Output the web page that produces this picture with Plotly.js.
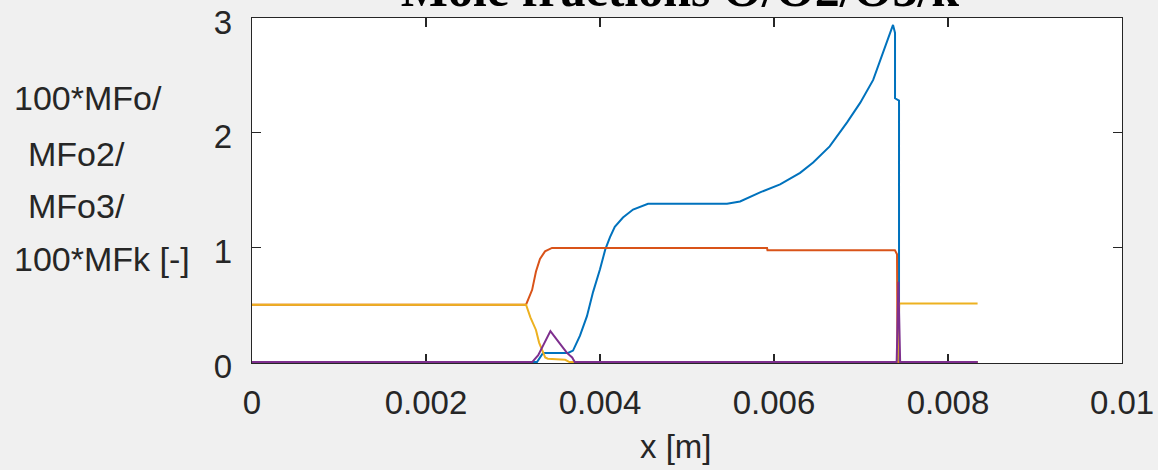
<!DOCTYPE html>
<html>
<head>
<meta charset="utf-8">
<script src="https://cdn.plot.ly/plotly-3.0.1.min.js"></script>
<style>
html,body{margin:0;padding:0;background:#f0f0f0;}
#chart{width:1158px;height:470px;}
</style>
</head>
<body>
<div id="chart"></div>
<script>
// ---- data ----
const xTickVals = [0, 0.002, 0.004, 0.006, 0.008, 0.01];
const xTickText = ['0', '0.002', '0.004', '0.006', '0.008', '0.01'];
const yTickVals = [0, 1, 2, 3];
const yTickText = ['0', '1', '2', '3'];

// 100*MFo (blue)
const xO = [0, 0.003276, 0.003345, 0.003632, 0.00369, 0.00377, 0.00385, 0.00392, 0.00400, 0.00406, 0.004115, 0.00417, 0.004264, 0.00438, 0.004552, 0.00546, 0.00561, 0.00584, 0.00607, 0.0063, 0.00645, 0.00664, 0.00684, 0.00699, 0.00714, 0.007253, 0.007356, 0.007368, 0.007391, 0.007391, 0.007437, 0.007437, 0.00834];
const yO = [0, 0, 0.08, 0.08, 0.10, 0.23, 0.40, 0.61, 0.81, 0.98, 1.09, 1.18, 1.26, 1.33, 1.38, 1.38, 1.40, 1.48, 1.55, 1.65, 1.74, 1.88, 2.09, 2.26, 2.46, 2.70, 2.91, 2.94, 2.87, 2.30, 2.28, 0, 0];

// MFo2 (orange)
const xO2 = [0, 0.00315, 0.00322, 0.003264, 0.00331, 0.003368, 0.003448, 0.00592, 0.005925, 0.00739, 0.007414, 0.00742, 0.00834];
const yO2 = [0.5, 0.5, 0.63, 0.79, 0.90, 0.965, 0.995, 0.995, 0.975, 0.975, 0.94, 0, 0];

// MFo3 (yellow)
const xO3 = [0, 0.00315, 0.0032, 0.003264, 0.0033, 0.00334, 0.00337, 0.0034, 0.0036, 0.00365, 0.00742, 0.00744, 0.00834];
const yO3 = [0.5, 0.5, 0.39, 0.28, 0.17, 0.09, 0.04, 0.03, 0.02, 0, 0, 0.51, 0.51];

// 100*MFk (purple)
const xK = [0, 0.00322, 0.00329, 0.00343, 0.00353, 0.00362, 0.00368, 0.00371, 0.00741, 0.00743, 0.00745, 0.00834];
const yK = [0, 0, 0.06, 0.27, 0.17, 0.08, 0.04, 0, 0, 0.70, 0, 0];

const seriesColors = ['#0072BD', '#D95319', '#EDB120', '#7E2F8E'];

const titleText = 'Mole fractions O/O2/O3/k';
const xLabel = 'x [m]';
const yLabelLines = ['100*MFo/', 'MFo2/', 'MFo3/', '100*MFk [-]'];

// ---- layout constants ----
const W = 1158, H = 470;
const L = 252, R = 36, T = 18, B = 107;
const pw = W - L - R, ph = H - T - B;
const sans = '"Liberation Sans", Arial, sans-serif';
const ink = '#262626';

const traces = [[xO, yO], [xO2, yO2], [xO3, yO3], [xK, yK]].map((d, i) => ({
  x: d[0], y: d[1], type: 'scatter', mode: 'lines',
  line: {color: seriesColors[i], width: 2},
  hoverinfo: 'skip', showlegend: false
}));

// y label lines: [left px, center y px]
const yLabPos = [[12, 98.5], [26, 154], [26, 205.5], [12, 258.5]];
const annotations = yLabelLines.map((t, i) => ({
  text: t, xref: 'paper', yref: 'paper',
  x: (yLabPos[i][0] - L) / pw, y: (H - B - yLabPos[i][1]) / ph,
  xanchor: 'left', yanchor: 'middle', showarrow: false,
  font: {family: sans, size: 34, color: ink}
}));
annotations.push({
  text: xLabel, xref: 'paper', yref: 'paper',
  x: (676 - L) / pw, y: (H - B - 446) / ph,
  xanchor: 'center', yanchor: 'middle', showarrow: false,
  font: {family: sans, size: 33, color: ink}
});

const axisCommon = {
  showgrid: false, zeroline: false, showline: true, linecolor: ink, linewidth: 1.2,
  mirror: 'ticks', ticks: 'inside', ticklen: 9, tickwidth: 1.2, tickcolor: ink,
  tickfont: {family: sans, size: 33, color: ink}, layer: 'below traces'
};

const layout = {
  width: W, height: H,
  margin: {l: L, r: R, t: T, b: B, pad: 0},
  paper_bgcolor: '#f0f0f0', plot_bgcolor: '#ffffff',
  title: {
    text: titleText, xref: 'paper', x: (680 - L) / pw, xanchor: 'center',
    yref: 'container', y: 1 - 6 / H, yanchor: 'bottom',
    font: {family: '"Liberation Serif", "Times New Roman", serif', size: 50, color: '#000', weight: 'bold'}
  },
  xaxis: Object.assign({}, axisCommon, {
    range: [0, 0.01], tickmode: 'array', tickvals: xTickVals, ticktext: xTickText,
    ticklabelstandoff: 10
  }),
  yaxis: Object.assign({}, axisCommon, {
    range: [-0.008, 3], tickmode: 'array', tickvals: yTickVals, ticktext: yTickText,
    ticklabelstandoff: 12, ticklabelshift: 4
  }),
  annotations: annotations
};

Plotly.newPlot('chart', traces, layout, {displayModeBar: false, staticPlot: true});
</script>
</body>
</html>
